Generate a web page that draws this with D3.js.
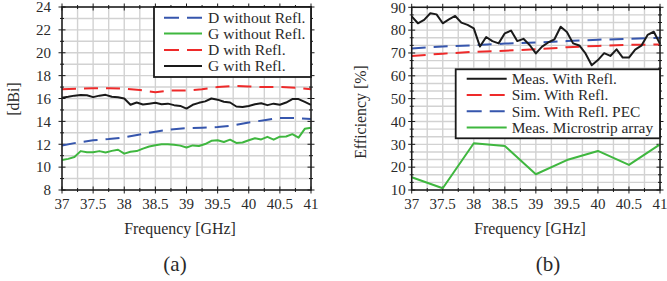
<!DOCTYPE html>
<html>
<head>
<meta charset="utf-8">
<script src="https://cdn.jsdelivr.net/npm/d3@7"></script>
<style>
  body { margin: 0; background: #fff; }
</style>
</head>
<body>
<svg id="chart" width="667" height="281" font-family="Liberation Serif, DejaVu Serif, serif"></svg>
<script>
// ---- data (a): gain / directivity ----
var freqFine = [37.0, 37.1, 37.2, 37.3, 37.4, 37.5, 37.6, 37.7, 37.8, 37.9, 38.0, 38.1, 38.2, 38.3, 38.4, 38.5, 38.6, 38.7, 38.8, 38.9,
    39.0, 39.1, 39.2, 39.3, 39.4, 39.5, 39.6, 39.7, 39.8, 39.9, 40.0, 40.1, 40.2, 40.3, 40.4, 40.5, 40.6, 40.7, 40.8, 40.9, 41.0];
var freqQuarter = [37, 37.25, 37.5, 37.75, 38, 38.25, 38.5, 38.75, 39, 39.25, 39.5, 39.75, 40, 40.25, 40.5, 40.75, 41];
var freqHalf = [37, 37.5, 38, 38.5, 39, 39.5, 40, 40.5, 41];

var dWithout = [11.9, 12.15, 12.35, 12.45, 12.6, 12.85, 13.1, 13.3, 13.4, 13.45, 13.5, 13.65, 13.9, 14.1, 14.3, 14.3, 14.2];
var dWith = [16.8, 16.85, 16.9, 16.9, 16.85, 16.75, 16.55, 16.7, 16.7, 16.8, 17.0, 17.1, 17.05, 17.0, 17.0, 16.95, 16.8];
var gWithout = [10.62, 10.72, 10.88, 11.4, 11.3, 11.3, 11.4, 11.28, 11.42, 11.52, 11.18, 11.35, 11.4, 11.62, 11.8, 11.92, 12.0, 12.0, 11.95, 11.88,
    11.72, 11.9, 11.85, 12.02, 12.3, 12.35, 12.2, 12.4, 12.12, 12.15, 12.35, 12.52, 12.42, 12.65, 12.4, 12.66, 12.68, 12.88, 12.58, 13.35, 13.45];
var gWith = [16.07, 16.15, 16.25, 16.3, 16.28, 16.12, 16.25, 16.32, 16.15, 16.1, 16.0, 15.45, 15.65, 15.48, 15.55, 15.62, 15.5, 15.55, 15.42, 15.35,
    15.12, 15.45, 15.62, 15.75, 16.0, 15.9, 15.72, 15.65, 15.3, 15.25, 15.35, 15.5, 15.58, 15.42, 15.55, 15.45, 15.65, 15.95, 15.95, 15.7, 15.45];

// ---- data (b): efficiency ----
var effMeas = [86, 83, 84.5, 87.4, 86.9, 83, 84.7, 86.2, 83.3, 82.3, 80.8, 72.8, 77, 75.2, 74.2, 78.6, 79.8, 75.2, 76.2, 73.5,
    69.8, 72.8, 74.6, 76.0, 81.5, 79.2, 74.2, 73.3, 69.8, 64.6, 66.9, 69.9, 68.7, 71.6, 68.0, 68.0, 71.5, 73.2, 77.9, 79.3, 74];
var effSim = [68.7, 69.7, 70.5, 71.0, 71.6, 72.5, 73.1, 73.6, 73.7];
var effSimPec = [72.0, 72.8, 73.4, 74.1, 74.6, 75.2, 75.8, 76.2, 76.7];
var effMicrostrip = [15.6, 10.75, 30.45, 29.3, 16.9, 23.1, 27.1, 21.0, 30.0];

var xTicks = [37, 37.5, 38, 38.5, 39, 39.5, 40, 40.5, 41];
var yTicksA = [8, 10, 12, 14, 16, 18, 20, 22, 24];
var yTicksB = [10, 20, 30, 40, 50, 60, 70, 80, 90];

var blue = "#3656ad", green = "#3fb73f", red = "#ee2a2a", black = "#1a1a1a";
var textColor = "#2a2a2a";

var svg = d3.select("#chart");

function zip(xs, ys) {
    return xs.map(function(x, i) { return [x, ys[i]]; });
}

function drawPanel(opt) {
    var x = d3.scaleLinear().domain([37, 41]).range([opt.left, opt.right]);
    var y = d3.scaleLinear().domain(opt.yDomain).range([opt.bottom, opt.top]);
    var g = svg.append("g");

    // grid
    var gx = d3.range(37, 41.001, 0.25);
    var gy = d3.range(0, opt.yMinorCount + 1).map(function(i) {
        return opt.yDomain[0] + i * (opt.yDomain[1] - opt.yDomain[0]) / opt.yMinorCount;
    });
    g.selectAll(".gx").data(gx).enter().append("line")
        .attr("x1", d => x(d)).attr("x2", d => x(d))
        .attr("y1", opt.top).attr("y2", opt.bottom)
        .attr("stroke", "#d2d2d2").attr("stroke-width", 1.4);
    g.selectAll(".gy").data(gy).enter().append("line")
        .attr("y1", d => y(d)).attr("y2", d => y(d))
        .attr("x1", opt.left).attr("x2", opt.right)
        .attr("stroke", "#d2d2d2").attr("stroke-width", 1.4);

    // ticks crossing the frame on all sides
    var tk = g.append("g").attr("stroke", black).attr("stroke-width", 1);
    gx.forEach(function(d) {
        var major = xTicks.indexOf(d) >= 0;
        var l = major ? 3.5 : 2;
        [opt.top, opt.bottom].forEach(function(yy) {
            tk.append("line").attr("x1", x(d)).attr("x2", x(d)).attr("y1", yy - l).attr("y2", yy + l);
        });
    });
    gy.forEach(function(d) {
        var major = opt.yTicks.some(function(t) { return Math.abs(t - d) < 1e-6; });
        var l = major ? 3.5 : 2;
        [opt.left, opt.right].forEach(function(xx) {
            tk.append("line").attr("y1", y(d)).attr("y2", y(d)).attr("x1", xx - l).attr("x2", xx + l);
        });
    });

    // tick labels
    g.selectAll(".xl").data(xTicks).enter().append("text")
        .attr("x", d => x(d)).attr("y", 209)
        .attr("text-anchor", "middle").attr("font-size", 15).attr("fill", textColor)
        .text(d => d);
    g.selectAll(".yl").data(opt.yTicks).enter().append("text")
        .attr("x", opt.left - opt.yLabelGap).attr("y", d => y(d)).attr("dy", "0.35em")
        .attr("text-anchor", "end").attr("font-size", 15).attr("fill", textColor)
        .text(d => d);

    // axis titles
    g.append("text").attr("x", opt.xTitleX).attr("y", 234).attr("fill", textColor)
        .attr("text-anchor", "middle").attr("font-size", 15.9).text("Frequency [GHz]");
    g.append("text").attr("fill", textColor)
        .attr("transform", "translate(" + opt.yTitleX + "," + opt.yTitleY + ") rotate(-90)")
        .attr("text-anchor", "middle").attr("font-size", 15.9).text(opt.yTitle);
    g.append("text").attr("x", opt.capX).attr("y", 271).attr("fill", textColor)
        .attr("text-anchor", "middle").attr("font-size", 21).text(opt.caption);

    // curves
    var line = d3.line().x(d => x(d[0])).y(d => y(d[1]));
    opt.series.forEach(function(s) {
        g.append("path").datum(zip(s.x, s.y))
            .attr("d", line)
            .attr("fill", "none")
            .attr("stroke", s.color)
            .attr("stroke-width", 2)
            .attr("stroke-linejoin", "round")
            .attr("stroke-dasharray", s.dash ? "14,8" : null);
    });

    // frame
    g.append("rect").attr("x", opt.left).attr("y", opt.top)
        .attr("width", opt.right - opt.left).attr("height", opt.bottom - opt.top)
        .attr("fill", "none").attr("stroke", black).attr("stroke-width", 1.5);

    // legend
    var lg = opt.legend;
    var lgG = g.append("g");
    lgG.append("rect").attr("x", lg.x0).attr("y", lg.y0)
        .attr("width", lg.x1 - lg.x0).attr("height", lg.y1 - lg.y0)
        .attr("fill", "#fff").attr("stroke", black).attr("stroke-width", 1.8);
    opt.series.slice().sort((a, b) => a.order - b.order).forEach(function(s, i) {
        var yy = lg.rowY[i];
        lgG.append("line").attr("x1", lg.lineX0).attr("x2", lg.lineX1)
            .attr("y1", yy).attr("y2", yy)
            .attr("stroke", s.color).attr("stroke-width", 2)
            .attr("stroke-dasharray", s.dash ? "15,8" : null);
        lgG.append("text").attr("x", lg.textX).attr("y", yy).attr("dy", "0.35em").attr("fill", textColor)
            .attr("font-size", lg.fontSize).text(s.name);
    });
}

drawPanel({
    left: 62, right: 311, top: 7, bottom: 190,
    yDomain: [8, 24], yMinorCount: 16, yTicks: yTicksA, yLabelGap: 11,
    yTitle: "[dBi]", yTitleX: 19, yTitleY: 99,
    xTitleX: 180, capX: 175, caption: "(a)",
    series: [
        {name: "D without Refl.", x: freqQuarter, y: dWithout, color: blue, dash: true, order: 0},
        {name: "G without Refl.", x: freqFine, y: gWithout, color: green, dash: false, order: 1},
        {name: "D with Refl.", x: freqQuarter, y: dWith, color: red, dash: true, order: 2},
        {name: "G with Refl.", x: freqFine, y: gWith, color: black, dash: false, order: 3}
    ],
    legend: {x0: 154, y0: 7, x1: 311, y1: 77, rowY: [17.7, 33.5, 50, 66], lineX0: 164, lineX1: 202, textX: 208, fontSize: 15.6}
});

drawPanel({
    left: 411.7, right: 660, top: 7.3, bottom: 190,
    yDomain: [10, 90], yMinorCount: 24, yTicks: yTicksB, yLabelGap: 6,
    yTitle: "Efficiency [%]", yTitleX: 366, yTitleY: 112,
    xTitleX: 530, capX: 548, caption: "(b)",
    series: [
        {name: "Meas. Microstrip array", x: freqHalf, y: effMicrostrip, color: green, dash: false, order: 3},
        {name: "Sim. With Refl.", x: freqHalf, y: effSim, color: red, dash: true, order: 1},
        {name: "Sim. With Refl. PEC", x: freqHalf, y: effSimPec, color: blue, dash: true, order: 2},
        {name: "Meas. With Refl.", x: freqFine, y: effMeas, color: black, dash: false, order: 0}
    ],
    legend: {x0: 455.7, y0: 69.3, x1: 660, y1: 138.3, rowY: [78.8, 95, 111.2, 127.4], lineX0: 466.7, lineX1: 506.7, textX: 511.7, fontSize: 15.4}
});
</script>
</body>
</html>
